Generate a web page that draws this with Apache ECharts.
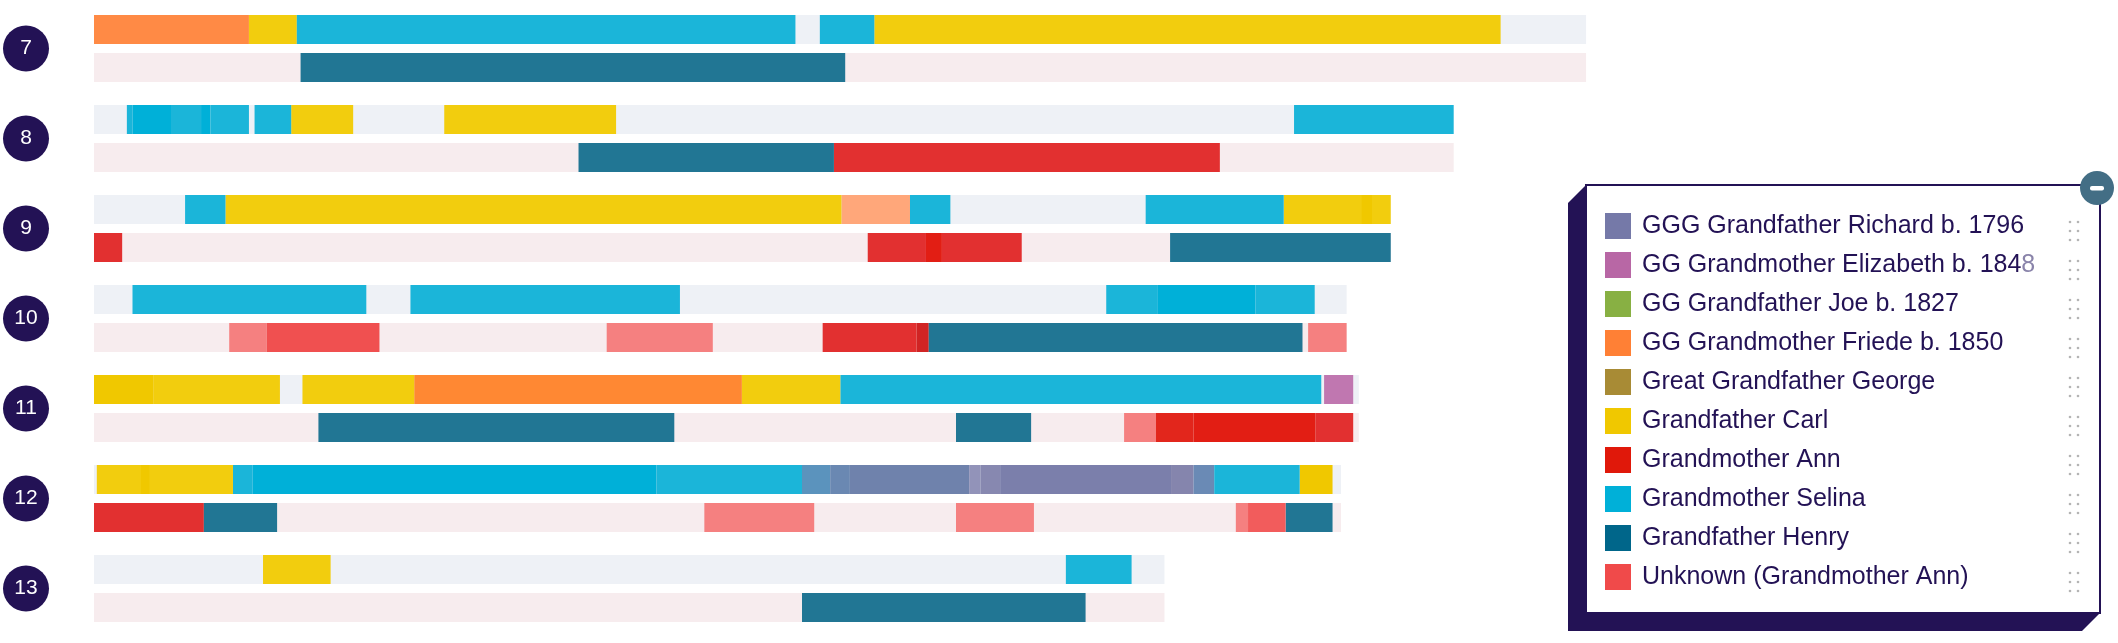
<!DOCTYPE html>
<html>
<head>
<meta charset="utf-8">
<script src="https://cdn.jsdelivr.net/npm/echarts@6/dist/echarts.min.js"></script>
<style>
  html, body { margin: 0; padding: 0; background: #ffffff; }
  #chart { width: 2118px; height: 643px; }
</style>
</head>
<body>
<div id="chart"></div>
<script>
// ---------------- DATA ----------------
const chromLabels = ['7', '8', '9', '10', '11', '12', '13'];
// chromosome lengths (Mb)
const chromLengths = [158.9, 144.8, 138.1, 133.4, 134.7, 132.8, 114.0];

const ancestorKeys = ['richard', 'elizabeth', 'joe', 'friede', 'george', 'carl', 'ann', 'selina', 'henry', 'unknown'];
const ancestorNames = [
  'GGG Grandfather Richard b. 1796',
  'GG Grandmother Elizabeth b. 1848',
  'GG Grandfather Joe b. 1827',
  'GG Grandmother Friede b. 1850',
  'Great Grandfather George',
  'Grandfather Carl',
  'Grandmother Ann',
  'Grandmother Selina',
  'Grandfather Henry',
  'Unknown (Grandmother Ann)'
];
const swatchColors = ['#7579a8', '#b867a5', '#88b043', '#ff8035', '#a88b35', '#f0c800', '#e0180a', '#00b0d8', '#00668a', '#f04a4a'];
const barColors    = ['#7b7fab', '#c077b0', '#8fb550', '#ff8a45', '#ad9140', '#f2cd0e', '#e23030', '#1bb5d9', '#217694', '#f05050'];

// shade variants (overlapping segments)
const SEL_DARK = '#00b0d8', CARL_DARK = '#f0c800', ANN_BRIGHT = '#e21e14', UNK_LIGHT = '#f58080', SALMON = '#ffa77a';

// segments: [track (0 = top, 1 = bottom), start Mb, end Mb, ancestor, optional shade]
const chr7 = [
  [0, 0, 16.5, 'friede'], [0, 16.5, 21.6, 'carl'], [0, 21.6, 74.7, 'selina'],
  [0, 77.3, 83.1, 'selina'], [0, 83.1, 149.8, 'carl'],
  [1, 22.0, 80.0, 'henry']
];
const chr8 = [
  [0, 3.5, 4.1, 'selina'], [0, 4.1, 8.2, 'selina', SEL_DARK], [0, 8.2, 11.4, 'selina'],
  [0, 11.4, 12.4, 'selina', SEL_DARK], [0, 12.4, 16.5, 'selina'], [0, 17.1, 21.0, 'selina'],
  [0, 21.0, 27.6, 'carl'], [0, 37.3, 55.6, 'carl'], [0, 127.8, 144.8, 'selina'],
  [1, 51.6, 78.8, 'henry'], [1, 78.8, 119.9, 'ann']
];
const chr9 = [
  [0, 9.7, 14.0, 'selina'], [0, 14.0, 79.6, 'carl'], [0, 79.6, 86.9, 'friede', SALMON],
  [0, 86.9, 91.2, 'selina'], [0, 112.0, 126.7, 'selina'], [0, 126.7, 138.1, 'carl'],
  [0, 135.0, 136.1, 'carl', CARL_DARK],
  [1, 0, 3.0, 'ann'], [1, 82.4, 88.6, 'ann'], [1, 88.6, 90.3, 'ann', ANN_BRIGHT],
  [1, 90.3, 98.8, 'ann'], [1, 114.6, 138.1, 'henry']
];
const chr10 = [
  [0, 4.1, 29.0, 'selina'], [0, 33.7, 62.4, 'selina'], [0, 107.8, 113.3, 'selina'],
  [0, 113.3, 123.7, 'selina', SEL_DARK], [0, 123.7, 130.0, 'selina'],
  [1, 14.4, 18.4, 'unknown', UNK_LIGHT], [1, 18.4, 30.4, 'unknown'],
  [1, 54.6, 65.9, 'unknown', UNK_LIGHT], [1, 77.6, 87.6, 'ann'], [1, 87.6, 88.9, 'ann', '#d02424'],
  [1, 88.9, 128.7, 'henry'], [1, 129.3, 133.4, 'unknown', UNK_LIGHT]
];
const chr11 = [
  [0, 0, 6.3, 'carl', CARL_DARK], [0, 6.3, 19.8, 'carl'], [0, 22.2, 34.1, 'carl'],
  [0, 34.1, 69.0, 'friede', '#ff8833'], [0, 69.0, 79.5, 'carl'], [0, 79.5, 130.7, 'selina'],
  [0, 131.0, 134.1, 'elizabeth'],
  [1, 23.9, 61.8, 'henry'], [1, 91.8, 99.8, 'henry'], [1, 109.7, 113.1, 'unknown', UNK_LIGHT],
  [1, 113.1, 117.1, 'ann', '#e2261c'], [1, 117.1, 130.1, 'ann', ANN_BRIGHT], [1, 130.1, 134.1, 'ann']
];
const chr12 = [
  [0, 0.3, 14.8, 'carl'], [0, 5.0, 5.9, 'carl', CARL_DARK], [0, 14.8, 16.9, 'selina'],
  [0, 16.9, 59.9, 'selina', SEL_DARK], [0, 59.9, 75.4, 'selina'],
  [0, 75.4, 78.4, 'richard', '#5b93bd'], [0, 78.4, 80.5, 'richard', '#6a88b2'],
  [0, 80.5, 93.2, 'richard', '#6f82ac'], [0, 93.2, 94.4, 'richard', '#9293b9'],
  [0, 94.4, 96.5, 'richard', '#8788b0'], [0, 96.5, 114.7, 'richard'],
  [0, 114.7, 117.1, 'richard', '#8585ad'], [0, 117.1, 119.3, 'richard', '#6a8ab5'],
  [0, 119.3, 128.4, 'selina'], [0, 128.4, 131.9, 'carl', CARL_DARK],
  [1, 0, 11.7, 'ann'], [1, 11.7, 19.5, 'henry'], [1, 65.0, 76.7, 'unknown', UNK_LIGHT],
  [1, 91.8, 100.1, 'unknown', UNK_LIGHT], [1, 121.6, 122.9, 'unknown', UNK_LIGHT],
  [1, 122.9, 126.9, 'unknown', '#f25c5c'], [1, 126.9, 131.9, 'henry']
];
const chr13 = [
  [0, 18.0, 25.2, 'carl'], [0, 103.5, 110.5, 'selina'],
  [1, 75.4, 105.6, 'henry']
];
const chromSegments = [chr7, chr8, chr9, chr10, chr11, chr12, chr13];

// ---------------- STYLE ----------------
const NAVY = '#231255';
const TOP_BG = '#eef1f6';
const BOT_BG = '#f7ecee';
const BAR_FRAC = 29 / 90;   // bar height as share of a chromosome band
const GAP_FRAC = 9 / 90;    // gap between the two tracks

function trackRect(api, chrom, track, start, end) {
  const p0 = api.coord([start, chrom]);
  const p1 = api.coord([end, chrom]);
  const band = api.size([0, 1])[1];
  const h = band * BAR_FRAC;
  const g = band * GAP_FRAC;
  const y = track === 0 ? p0[1] - g / 2 - h : p0[1] + g / 2;
  return { x: p0[0], y: y, width: p1[0] - p0[0], height: h };
}

// background tracks
const bgData = [];
chromLengths.forEach((len, i) => {
  bgData.push([i, 0, 0, len, TOP_BG]);
  bgData.push([i, 1, 0, len, BOT_BG]);
});

const series = [{
  type: 'custom',
  name: 'bg',
  silent: true,
  data: bgData,
  encode: { x: [2, 3], y: 0 },
  renderItem: function (params, api) {
    return {
      type: 'rect',
      shape: trackRect(api, api.value(0), api.value(1), api.value(2), api.value(3)),
      style: { fill: bgData[params.dataIndex][4] }
    };
  }
}];

ancestorKeys.forEach((key, ai) => {
  const data = [];
  chromSegments.forEach((segs, ci) => {
    segs.forEach(s => {
      if (s[3] === key) data.push([ci, s[0], s[1], s[2], s[4] || barColors[ai]]);
    });
  });
  series.push({
    type: 'custom',
    name: ancestorNames[ai],
    itemStyle: { color: swatchColors[ai] },
    data: data,
    encode: { x: [2, 3], y: 0 },
    renderItem: function (params, api) {
      return {
        type: 'rect',
        shape: trackRect(api, api.value(0), api.value(1), api.value(2), api.value(3)),
        style: { fill: data[params.dataIndex][4] }
      };
    }
  });
});

// legend frame decoration
const BOX = { l: 1586, t: 185, r: 2100, b: 613, d: 18 };
const graphics = [
  {
    type: 'polygon',
    shape: { points: [[BOX.l, BOX.t], [BOX.r, BOX.t], [BOX.r, BOX.b], [BOX.r - BOX.d, BOX.b + BOX.d], [BOX.l - BOX.d, BOX.b + BOX.d], [BOX.l - BOX.d, BOX.t + BOX.d]] },
    style: { fill: NAVY }
  },
  {
    type: 'rect',
    shape: { x: BOX.l, y: BOX.t, width: BOX.r - BOX.l, height: BOX.b - BOX.t },
    style: { fill: '#ffffff', stroke: NAVY, lineWidth: 2 }
  },
  {
    type: 'circle',
    shape: { cx: 2097, cy: 188, r: 17 },
    style: { fill: '#436e85' }
  },
  {
    type: 'rect',
    shape: { x: 2090, y: 186, width: 14, height: 4.5, r: 2 },
    style: { fill: '#ffffff' }
  }
];
for (let i = 0; i < ancestorNames.length; i++) {
  for (let rr = 0; rr < 3; rr++) {
    for (let cc = 0; cc < 2; cc++) {
      graphics.push({
        type: 'circle',
        shape: { cx: 2070 + cc * 8, cy: 222 + i * 39 + rr * 9, r: 1.3 },
        style: { fill: '#b4b4b4' }
      });
    }
  }
}

const option = {
  backgroundColor: '#ffffff',
  animation: false,
  grid: { left: 92, top: 3.5, width: 1880, height: 630 },
  xAxis: { type: 'value', min: 0, max: 200, show: false },
  yAxis: {
    type: 'category',
    data: chromLabels,
    inverse: true,
    axisLine: { show: false },
    axisTick: { show: false },
    splitLine: { show: false },
    axisLabel: {
      margin: 45,
      formatter: v => '{c|' + v + '}',
      rich: {
        c: {
          width: 46, height: 46, lineHeight: 46, borderRadius: 23,
          backgroundColor: NAVY, color: '#ffffff', align: 'center',
          fontSize: 21, fontFamily: 'Liberation Sans'
        }
      }
    }
  },
  legend: {
    data: ancestorNames,
    orient: 'vertical',
    left: 1605,
    top: 213,
    padding: 0,
    itemWidth: 26,
    itemHeight: 26,
    itemGap: 13,
    icon: 'rect',
    selectedMode: false,
    z: 10,
    formatter: function (name) {
      // the last digit of this entry fades out in the original
      if (name === ancestorNames[1]) return name.slice(0, -1) + '{f|' + name.slice(-1) + '}';
      return name;
    },
    textStyle: {
      fontSize: 25, color: NAVY, fontFamily: 'Liberation Sans', padding: [0, 0, 0, 6],
      rich: { f: { fontSize: 25, color: '#8a84aa', fontFamily: 'Liberation Sans' } }
    }
  },
  graphic: { elements: graphics },
  series: series
};

const chart = echarts.init(document.getElementById('chart'), null, { renderer: 'canvas' });
chart.setOption(option);
</script>
</body>
</html>
